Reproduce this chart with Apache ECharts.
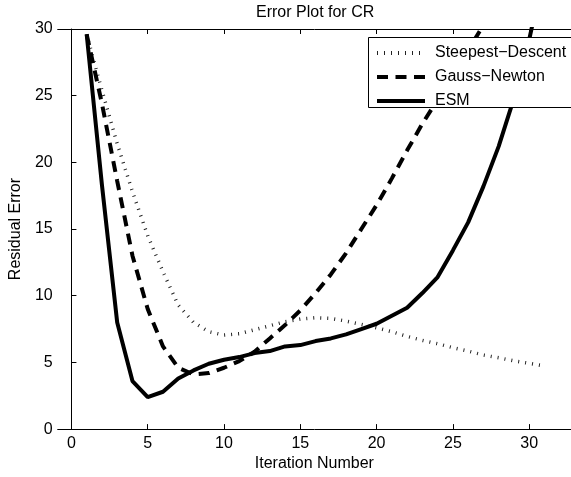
<!DOCTYPE html>
<html>
<head>
<meta charset="utf-8">
<script src="https://cdn.jsdelivr.net/npm/echarts@6/dist/echarts.min.js"></script>
<style>
  html, body { margin: 0; padding: 0; background: #fff; }
  #chart { width: 571px; height: 477px; }
</style>
</head>
<body>
<div id="chart"></div>
<script>
// iteration index (x)
const iterations = [1, 2, 3, 4, 5, 6, 7, 8, 9, 10, 11, 12, 13, 14, 15, 16,
  17, 18, 19, 20, 21, 22, 23, 24, 25, 26, 27, 28, 29, 30, 31]

// residual error per iteration
const steepestDescent = [29.6, 25.4, 21.4, 17.8, 14.5, 11.8, 9.3, 8.0, 7.3, 7.05,
  7.15, 7.45, 7.75, 8.05, 8.25, 8.35, 8.3, 8.1, 7.85, 7.6, 7.3, 6.95, 6.65, 6.4,
  6.1, 5.85, 5.55, 5.35, 5.12, 4.93, 4.73]
const gaussNewton = [29.6, 24.4, 18.6, 13.0, 9.0, 6.2, 4.6, 4.1, 4.2, 4.6,
  5.1, 5.8, 6.8, 7.8, 8.9, 10.2, 11.6, 13.2, 15.0, 16.8, 18.8, 20.9, 22.9, 24.7,
  26.5, 28.4, 30.3, 32.2, 34.1, 36.0, 38.0]
const esm = [29.6, 18.3, 8.0, 3.6, 2.4, 2.8, 3.8, 4.4, 4.9, 5.2,
  5.4, 5.7, 5.85, 6.2, 6.3, 6.6, 6.8, 7.1, 7.5, 7.9, 8.5, 9.1, 10.2, 11.4,
  13.4, 15.5, 18.2, 21.2, 24.8, 29.2, 34.5]

const xTicks = [0, 5, 10, 15, 20, 25, 30]
const seriesNames = ['Steepest\u2212Descent', 'Gauss\u2212Newton', 'ESM']

const FONT = '"Liberation Sans", Arial, Helvetica, sans-serif'

const pairs = values => iterations.map((x, i) => [x, values[i]])

const chart = echarts.init(document.getElementById('chart'), null, { renderer: 'canvas' })

const axisCommon = {
  type: 'value',
  min: -0.9,
  max: 32.74,
  axisLine: { show: true, lineStyle: { color: '#000', width: 1 } },
  axisTick: { show: true, inside: true, length: 5, customValues: xTicks, lineStyle: { color: '#000' } },
  splitLine: { show: false }
}

chart.setOption({
  animation: false,
  backgroundColor: '#fff',
  textStyle: { fontFamily: FONT, color: '#000' },
  title: {
    text: 'Error Plot for CR',
    left: 256,
    top: 5,
    padding: 0,
    textStyle: { fontFamily: FONT, fontSize: 16, fontWeight: 'normal', color: '#000' }
  },
  grid: { left: 57, right: 0, top: 29, bottom: 40 },
  // legend frame runs past the right edge of the picture
  graphic: [{
    type: 'rect',
    left: 368,
    top: 37,
    z: 90,
    shape: { width: 230, height: 70 },
    style: { fill: '#fff', stroke: '#000', lineWidth: 1 }
  }],
  legend: {
    orient: 'vertical',
    left: 368,
    top: 37,
    z: 100,
    padding: [8, 10, 4, 7],
    itemGap: 8,
    itemWidth: 48,
    itemHeight: 14,
    // hide the marker circle, keep only the line sample
    itemStyle: { opacity: 0 },
    lineStyle: { width: 4 },
    data: seriesNames,
    textStyle: { fontFamily: FONT, fontSize: 16, color: '#000', padding: [0, 0, 0, 5] }
  },
  xAxis: [
    {
      ...axisCommon,
      position: 'bottom',
      name: 'Iteration Number',
      nameLocation: 'middle',
      nameGap: 23,
      nameTextStyle: { fontFamily: FONT, fontSize: 16, color: '#000', verticalAlign: 'top' },
      axisLabel: { customValues: xTicks, margin: 6, fontFamily: FONT, fontSize: 16, color: '#000' }
    },
    {
      ...axisCommon,
      position: 'top',
      axisLabel: { show: false }
    }
  ],
  yAxis: {
    type: 'value',
    min: 0,
    max: 30,
    interval: 5,
    name: 'Residual Error',
    nameLocation: 'middle',
    nameGap: 22,
    nameTextStyle: { fontFamily: FONT, fontSize: 16, color: '#000' },
    axisLine: { show: true, lineStyle: { color: '#000', width: 1 } },
    axisTick: { show: true, inside: true, length: 5, lineStyle: { color: '#000' } },
    axisLabel: { margin: 5, fontFamily: FONT, fontSize: 16, color: '#000' },
    splitLine: { show: false }
  },
  series: [
    {
      name: seriesNames[0],
      type: 'line',
      data: pairs(steepestDescent),
      symbol: 'none',
      clip: true,
      lineStyle: { color: '#222', width: 3.5, type: [1, 6], cap: 'butt' },
      itemStyle: { color: '#000' }
    },
    {
      name: seriesNames[1],
      type: 'line',
      data: pairs(gaussNewton),
      symbol: 'none',
      clip: true,
      lineStyle: { color: '#000', width: 4, type: [11, 7.5], cap: 'butt' },
      itemStyle: { color: '#000' }
    },
    {
      name: seriesNames[2],
      type: 'line',
      data: pairs(esm),
      symbol: 'none',
      clip: true,
      lineStyle: { color: '#000', width: 4 },
      itemStyle: { color: '#000' }
    }
  ]
})
</script>
</body>
</html>
